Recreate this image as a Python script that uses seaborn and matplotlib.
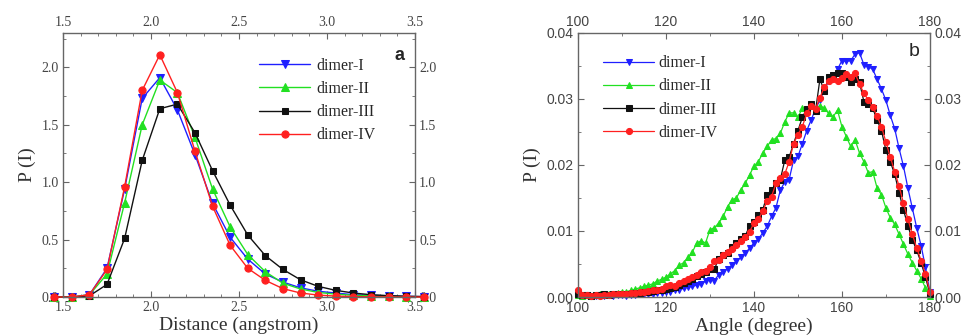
import numpy as np
import pandas as pd
import matplotlib
matplotlib.use("Agg")
import matplotlib.pyplot as plt
from matplotlib.ticker import MultipleLocator
import seaborn as sns

# ---------------- data: panel a (distance) ----------------
dist = [1.45, 1.55, 1.65, 1.75, 1.85, 1.95, 2.05, 2.15, 2.25, 2.35, 2.45,
        2.55, 2.65, 2.75, 2.85, 2.95, 3.05, 3.15, 3.25, 3.35, 3.45, 3.55]
a_dimer_I = [0.0, 0.0, 0.02, 0.25, 0.94, 1.73, 1.91, 1.63, 1.24, 0.815, 0.52,
             0.33, 0.20, 0.13, 0.08, 0.05, 0.035, 0.02, 0.015, 0.01, 0.005, 0.003]
a_dimer_II = [0.0, 0.0, 0.02, 0.20, 0.82, 1.50, 1.89, 1.78, 1.39, 0.94, 0.61,
              0.37, 0.22, 0.12, 0.07, 0.04, 0.025, 0.015, 0.01, 0.005, 0.003, 0.002]
a_dimer_III = [0.0, 0.0, 0.01, 0.11, 0.51, 1.19, 1.64, 1.68, 1.43, 1.10, 0.80,
               0.54, 0.36, 0.24, 0.15, 0.093, 0.058, 0.035, 0.02, 0.012, 0.007, 0.004]
a_dimer_IV = [0.0, 0.0, 0.02, 0.24, 0.96, 1.80, 2.11, 1.78, 1.27, 0.79, 0.45,
              0.25, 0.145, 0.073, 0.035, 0.017, 0.008, 0.004, 0.002, 0.001, 0.0, 0.0]

# ---------------- data: panel b (angle) ----------------
angle = list(range(100, 181))
b_dimer_I = [0.0003, 0.0002, 0.0003, 0.0002, 0.0002, 0.0003, 0.0002, 0.0003, 0.0002, 0.0003,
             0.0003, 0.0002, 0.0003, 0.0003, 0.0004, 0.0004, 0.0005, 0.0005, 0.0006, 0.0006,
             0.0007, 0.0008, 0.0010, 0.0011, 0.0013, 0.0015, 0.0016, 0.0018, 0.0020, 0.0024,
             0.0026, 0.0025, 0.0034, 0.0038, 0.0043, 0.0048, 0.0054, 0.0060, 0.0066, 0.0074,
             0.0082, 0.0088, 0.0097, 0.0107, 0.0122, 0.0135, 0.0162, 0.0174, 0.0178, 0.0207,
             0.0213, 0.0232, 0.0252, 0.0268, 0.0285, 0.0298, 0.0314, 0.0327, 0.0332, 0.0345,
             0.0358, 0.0357, 0.0358, 0.0368, 0.0370, 0.0352, 0.0349, 0.0345, 0.0330, 0.0315,
             0.0298, 0.0275, 0.0255, 0.0225, 0.0198, 0.0165, 0.0135, 0.0105, 0.0078, 0.0045,
             0.0008]
b_dimer_II = [0.0003, 0.0002, 0.0003, 0.0002, 0.0003, 0.0004, 0.0003, 0.0005, 0.0004, 0.0006,
              0.0007, 0.0008, 0.0010, 0.0012, 0.0014, 0.0016, 0.0018, 0.0020, 0.0024, 0.0027,
              0.0030, 0.0035, 0.0040, 0.0048, 0.0052, 0.0060, 0.0068, 0.0082, 0.0085, 0.0082,
              0.0102, 0.0105, 0.0112, 0.0122, 0.0137, 0.0147, 0.0150, 0.0162, 0.0172, 0.0185,
              0.0198, 0.0205, 0.0218, 0.0228, 0.0238, 0.0240, 0.0248, 0.0265, 0.0279, 0.0279,
              0.0272, 0.0286, 0.0283, 0.0289, 0.0286, 0.0290, 0.0286, 0.0278, 0.0273, 0.0283,
              0.0258, 0.0243, 0.0228, 0.0238, 0.0218, 0.0205, 0.0188, 0.0190, 0.0165, 0.0155,
              0.0135, 0.0120, 0.0110, 0.0095, 0.0080, 0.0065, 0.0052, 0.0040, 0.0028, 0.0014,
              0.0002]
b_dimer_III = [0.0004, 0.0003, 0.0003, 0.0002, 0.0003, 0.0003, 0.0004, 0.0003, 0.0004, 0.0004,
               0.0005, 0.0004, 0.0005, 0.0006, 0.0006, 0.0007, 0.0008, 0.0009, 0.0010, 0.0011,
               0.0012, 0.0013, 0.0015, 0.0018, 0.0021, 0.0025, 0.0028, 0.0032, 0.0035, 0.0038,
               0.0042, 0.0042, 0.0058, 0.0064, 0.0066, 0.0076, 0.0082, 0.0088, 0.0092, 0.0108,
               0.0113, 0.0124, 0.0132, 0.0155, 0.0162, 0.0172, 0.0178, 0.0207, 0.0212, 0.0232,
               0.0252, 0.0272, 0.0285, 0.0292, 0.0282, 0.0330, 0.0312, 0.0333, 0.0336, 0.0340,
               0.0339, 0.0334, 0.0326, 0.0330, 0.0325, 0.0296, 0.0293, 0.0286, 0.0268, 0.0252,
               0.0222, 0.0205, 0.0186, 0.0158, 0.0132, 0.0108, 0.0087, 0.0071, 0.0052, 0.0030,
               0.0005]
b_dimer_IV = [0.0010, 0.0003, 0.0003, 0.0002, 0.0003, 0.0002, 0.0003, 0.0003, 0.0004, 0.0004,
              0.0005, 0.0005, 0.0006, 0.0006, 0.0007, 0.0008, 0.0009, 0.0010, 0.0011, 0.0012,
              0.0016, 0.0018, 0.0017, 0.0021, 0.0025, 0.0027, 0.0030, 0.0033, 0.0038, 0.0040,
              0.0046, 0.0054, 0.0056, 0.0063, 0.0068, 0.0073, 0.0079, 0.0085, 0.0091, 0.0099,
              0.0112, 0.0118, 0.0130, 0.0145, 0.0152, 0.0172, 0.0180, 0.0186, 0.0205, 0.0232,
              0.0246, 0.0258, 0.0278, 0.0290, 0.0285, 0.0302, 0.0318, 0.0327, 0.0330, 0.0327,
              0.0332, 0.0338, 0.0334, 0.0339, 0.0322, 0.0309, 0.0298, 0.0288, 0.0274, 0.0258,
              0.0235, 0.0212, 0.0190, 0.0168, 0.0142, 0.0118, 0.0095, 0.0075, 0.0055, 0.0035,
              0.0008]

labels = ["dimer-I", "dimer-II", "dimer-III", "dimer-IV"]
colors = ["#1f1fff", "#22e022", "#111111", "#ff2020"]
markers = ["v", "^", "s", "o"]

sns.set_style("ticks")
plt.rcParams["font.family"] = ["Liberation Serif", "DejaVu Serif"]

fig = plt.figure(figsize=(9.64, 3.36), dpi=100)
axA = fig.add_axes([0.0654, 0.116, 0.365, 0.786])
axB = fig.add_axes([0.5996, 0.116, 0.365, 0.786])

serif = "Liberation Serif"
sans = "Liberation Sans"
spine_col = "#666666"
tick_col = "#444444"

# panel a
dfA = pd.DataFrame({"x": dist, "dimer-I": a_dimer_I, "dimer-II": a_dimer_II,
                    "dimer-III": a_dimer_III, "dimer-IV": a_dimer_IV})
msA = [5.5, 5.5, 4.6, 5.2]
for lab, c, m, ms in zip(labels, colors, markers, msA):
    sns.lineplot(data=dfA, x="x", y=lab, ax=axA, color=c, marker=m, markersize=ms,
                 markeredgecolor=c, linewidth=1.0, label=lab, clip_on=False)
axA.set_xlim(1.5, 3.5)
axA.set_ylim(0, 2.3)
axA.xaxis.set_major_locator(MultipleLocator(0.5))
axA.xaxis.set_minor_locator(MultipleLocator(0.1))
axA.yaxis.set_major_locator(MultipleLocator(0.5))
axA.yaxis.set_minor_locator(MultipleLocator(0.25))
axA.set_xlabel("Distance (angstrom)", fontsize=14, family=serif, labelpad=2)
axA.set_ylabel("P (I)", fontsize=14, family=serif, labelpad=4)
axA.legend(loc="upper right", bbox_to_anchor=(0.93, 0.96), frameon=False,
           prop={"family": serif, "size": 11.5}, handlelength=3.2,
           labelspacing=0.45, handletextpad=0.4)
axA.text(0.955, 0.915, "a", transform=axA.transAxes, fontsize=13,
         fontweight="bold", family=sans, ha="center", va="center")

# panel b
dfB = pd.DataFrame({"x": angle, "dimer-I": b_dimer_I, "dimer-II": b_dimer_II,
                    "dimer-III": b_dimer_III, "dimer-IV": b_dimer_IV})
msB = [4.5, 4.5, 3.8, 4.4]
for lab, c, m, ms in zip(labels, colors, markers, msB):
    sns.lineplot(data=dfB, x="x", y=lab, ax=axB, color=c, marker=m, markersize=ms,
                 markeredgecolor=c, linewidth=0.9, label=lab, clip_on=False)
axB.set_xlim(100, 180)
axB.set_ylim(0, 0.04)
axB.xaxis.set_major_locator(MultipleLocator(20))
axB.xaxis.set_minor_locator(MultipleLocator(10))
axB.yaxis.set_major_locator(MultipleLocator(0.01))
axB.yaxis.set_minor_locator(MultipleLocator(0.005))
axB.yaxis.set_major_formatter(matplotlib.ticker.FormatStrFormatter("%.2f"))
axB.set_xlabel("Angle (degree)", fontsize=14, family=serif, labelpad=2)
axB.set_ylabel("P (I)", fontsize=14, family=serif, labelpad=4)
axB.legend(loc="upper left", bbox_to_anchor=(0.03, 0.97), frameon=False,
           prop={"family": serif, "size": 11.5}, handlelength=3.2,
           labelspacing=0.45, handletextpad=0.3)
axB.text(0.955, 0.93, "b", transform=axB.transAxes, fontsize=14,
         family=sans, ha="center", va="center")

for ax, fam in ((axA, serif), (axB, sans)):
    for s in ax.spines.values():
        s.set_visible(True)
        s.set_color(spine_col)
        s.set_linewidth(1.0)
    ax.tick_params(which="both", direction="in", top=True, right=True,
                   labeltop=True, labelright=True, colors=spine_col,
                   labelcolor=tick_col, labelsize=10, pad=3)
    ax.tick_params(which="major", length=4)
    ax.tick_params(which="minor", length=2)
    ax.xaxis.label.set_color("#333333")
    ax.yaxis.label.set_color("#333333")

# tick label families (both sides)
for ax, fam in ((axA, serif), (axB, sans)):
    for t in ax.xaxis.get_major_ticks() + ax.yaxis.get_major_ticks():
        t.label1.set_family(fam)
        t.label2.set_family(fam)

fig.savefig("out.png", dpi=100)
